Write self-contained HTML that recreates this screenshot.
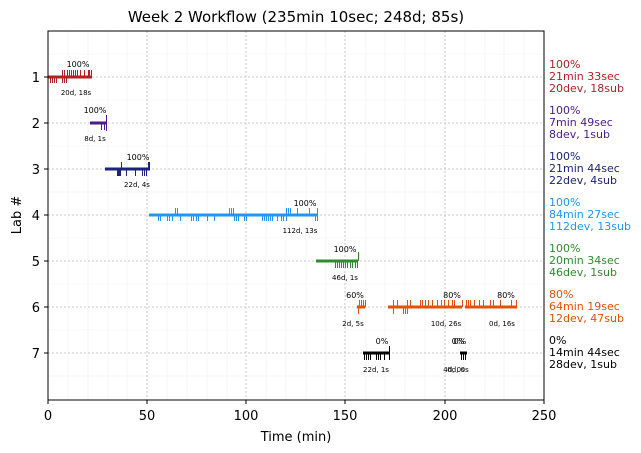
<!DOCTYPE html>
<html><head><style>body{margin:0;background:#fff}svg{display:block;font-family:"DejaVu Sans","Liberation Sans",sans-serif}</style></head><body>
<svg width="641" height="453" viewBox="0 0 641 453">
<text x="296" y="22" font-size="15" text-anchor="middle">Week 2 Workflow (235min 10sec; 248d; 85s)</text>
<g stroke="#f0f0f0" stroke-width="0.6">
<path d="M48 54H544M48 100H544M48 146H544M48 192H544M48 238H544M48 284H544M48 330H544M48 376H544"/>
<path d="M68 31V400M88 31V400M108 31V400M127 31V400M167 31V400M187 31V400M207 31V400M227 31V400M266 31V400M286 31V400M306 31V400M326 31V400M366 31V400M385 31V400M405 31V400M425 31V400M465 31V400M485 31V400M504 31V400M524 31V400"/>
</g>
<g stroke="#bbb" stroke-width="0.8" stroke-dasharray="2,2">
<path d="M48 77H544M48 123H544M48 169H544M48 215H544M48 261H544M48 307H544M48 353H544"/>
<path d="M147 31V400M246 31V400M345 31V400M445 31V400"/>
</g>
<g stroke-width="1" shape-rendering="crispEdges">
<g stroke="#b22222"><path d="M48 77H92" stroke-width="3"/><path d="M50.5 77v6M52.5 77v6M54.5 77v6M56.5 77v6M62.5 77v6M64.5 77v6M66.5 77v6M62.5 77v-7M64.5 77v-7M67.5 77v-7M69.5 77v-7M71.5 77v-7M73.5 77v-7M75.5 77v-7M77.5 77v-7M80.5 77v-7M84.5 77v-7M88.5 77v-7M89.5 77v-7M91.5 77v-7"/></g>
<g stroke="#4b1a91"><path d="M90 123H106" stroke-width="3"/><path d="M101.5 123v7M104.5 123v7M106.5 123v-8M106.5 123v8"/></g>
<g stroke="#1c237e"><path d="M105 169H150" stroke-width="3"/><path d="M117.5 169v7M118.5 169v7M119.5 169v7M120.5 169v7M126.5 169v7M135.5 169v7M142.5 169v7M144.5 169v7M146.5 169v7M121.5 169v-7M148.5 169v-7M149.5 169v-7"/></g>
<g stroke="#2196f3"><path d="M149 215H318" stroke-width="3"/><path d="M158.5 215v6M160.5 215v6M167.5 215v6M169.5 215v6M172.5 215v6M180.5 215v6M191.5 215v6M193.5 215v6M196.5 215v6M198.5 215v6M207.5 215v6M214.5 215v6M234.5 215v6M236.5 215v6M238.5 215v6M244.5 215v6M246.5 215v6M262.5 215v6M264.5 215v6M266.5 215v6M268.5 215v6M270.5 215v6M272.5 215v6M277.5 215v6M281.5 215v6M283.5 215v6M286.5 215v6M315.5 215v6M317.5 215v6M175.5 215v-7M177.5 215v-7M229.5 215v-7M231.5 215v-7M233.5 215v-7M286.5 215v-7M288.5 215v-7M290.5 215v-7M297.5 215v-7M309.5 215v-7M317.5 215v-7"/></g>
<g stroke="#2e8b2e"><path d="M316 261H358" stroke-width="3"/><path d="M335.5 261v7M337.5 261v7M339.5 261v7M341.5 261v7M343.5 261v7M345.5 261v7M347.5 261v7M350.5 261v7M352.5 261v7M355.5 261v7M357.5 261v7M358.5 261v-9"/></g>
<g stroke="#e65100"><path d="M357 307H365M388 307H462M465 307H517" stroke-width="3"/><path d="M358.5 307v7M359.5 307v-7M361.5 307v-7M363.5 307v-7M365.5 307v-7M393.5 307v7M403.5 307v7M405.5 307v7M407.5 307v7M393.5 307v-7M397.5 307v-7M407.5 307v-7M410.5 307v-7M420.5 307v-7M422.5 307v-7M425.5 307v-7M428.5 307v-7M432.5 307v-7M437.5 307v-7M441.5 307v-7M444.5 307v-7M448.5 307v-7M452.5 307v-7M454.5 307v-7M462.5 307v-7M466.5 307v-7M468.5 307v-7M470.5 307v-7M474.5 307v-7M479.5 307v-7M483.5 307v-7M490.5 307v-7M493.5 307v-7M500.5 307v-7M511.5 307v-7M516.5 307v-7"/></g>
<g stroke="#000"><path d="M363 353H390M460 353H467" stroke-width="3"/><path d="M364.5 353v7M366.5 353v7M368.5 353v7M370.5 353v7M376.5 353v7M378.5 353v7M380.5 353v7M384.5 353v7M389.5 353v7M461.5 353v7M463.5 353v7M465.5 353v7M389.5 353v-7"/></g>
</g>
<g font-size="8" text-anchor="middle">
<text x="78" y="67">100%</text><text x="76" y="95" font-size="7">20d, 18s</text>
<text x="95" y="113">100%</text><text x="95" y="141" font-size="7">8d, 1s</text>
<text x="138" y="160">100%</text><text x="137" y="187" font-size="7">22d, 4s</text>
<text x="305" y="206">100%</text><text x="300" y="233" font-size="7">112d, 13s</text>
<text x="345" y="252">100%</text><text x="345" y="280" font-size="7">46d, 1s</text>
<text x="355" y="298">60%</text><text x="452" y="298">80%</text><text x="506" y="298">80%</text>
<text x="353" y="326" font-size="7">2d, 5s</text><text x="446" y="326" font-size="7">10d, 26s</text><text x="502" y="326" font-size="7">0d, 16s</text>
<text x="382" y="344">0%</text><text x="458" y="344">0%</text><text x="460" y="344">0%</text>
<text x="376" y="372" font-size="7">22d, 1s</text><text x="454" y="372" font-size="7">4d, 0s</text><text x="458" y="372" font-size="7">0d, 0s</text>
</g>
<rect x="48" y="31" width="496" height="369" fill="none" stroke="#000" stroke-width="1"/>
<g stroke="#000"><path d="M44 77h4M44 123h4M44 169h4M44 215h4M44 261h4M44 307h4M44 353h4M48 400v4M147 400v4M246 400v4M345 400v4M445 400v4M544 400v4"/></g>
<g font-size="13" text-anchor="end">
<text x="40" y="82">1</text><text x="40" y="128">2</text><text x="40" y="174">3</text><text x="40" y="220">4</text><text x="40" y="266">5</text><text x="40" y="312">6</text><text x="40" y="358">7</text>
</g>
<g font-size="13" text-anchor="middle">
<text x="48" y="420">0</text><text x="147" y="420">50</text><text x="246" y="420">100</text><text x="345" y="420">150</text><text x="445" y="420">200</text><text x="544" y="420">250</text>
<text x="296" y="441">Time (min)</text>
</g>
<text transform="translate(21 215) rotate(-90)" font-size="13" text-anchor="middle">Lab #</text>
<g font-size="11">
<g fill="#b22222"><text x="549" y="68">100%</text><text x="549" y="80">21min 33sec</text><text x="549" y="92">20dev, 18sub</text></g>
<g fill="#4b1a91"><text x="549" y="114">100%</text><text x="549" y="126">7min 49sec</text><text x="549" y="138">8dev, 1sub</text></g>
<g fill="#1c237e"><text x="549" y="160">100%</text><text x="549" y="172">21min 44sec</text><text x="549" y="184">22dev, 4sub</text></g>
<g fill="#2196f3"><text x="549" y="206">100%</text><text x="549" y="218">84min 27sec</text><text x="549" y="230">112dev, 13sub</text></g>
<g fill="#2e8b2e"><text x="549" y="252">100%</text><text x="549" y="264">20min 34sec</text><text x="549" y="276">46dev, 1sub</text></g>
<g fill="#e65100"><text x="549" y="298">80%</text><text x="549" y="310">64min 19sec</text><text x="549" y="322">12dev, 47sub</text></g>
<g fill="#000"><text x="549" y="344">0%</text><text x="549" y="356">14min 44sec</text><text x="549" y="368">28dev, 1sub</text></g>
</g>
</svg>
</body></html>
